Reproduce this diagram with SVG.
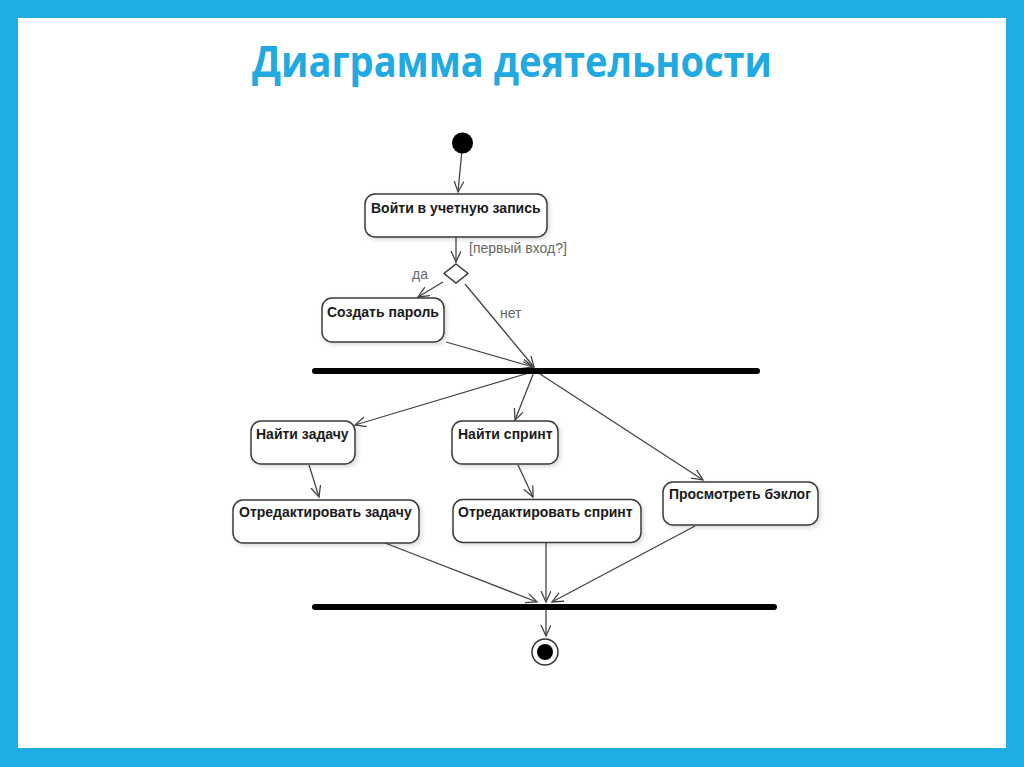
<svg xmlns="http://www.w3.org/2000/svg" width="1024" height="767" viewBox="0 0 1024 767">
<defs>
<style>
.node rect{fill:#fff;stroke:#3a3a3a;stroke-width:1.5;filter:url(#sh)}
.node text{font-family:"Liberation Sans",Arial,sans-serif;font-weight:bold;font-size:14px;fill:#1a1a1a}
.lbl{font-family:"Liberation Sans",Arial,sans-serif;font-size:14px;fill:#666}
#connectors line{stroke:#444;stroke-width:1.3;fill:none;marker-end:url(#arr)}
.bar{stroke:#000;stroke-width:6;stroke-linecap:round}
</style>
<marker id="arr" markerUnits="userSpaceOnUse" markerWidth="14" markerHeight="12" refX="11" refY="5" orient="auto" viewBox="0 0 14 12">
<path d="M0,0 L11,5 L0,10" fill="none" stroke="#444" stroke-width="1.3"/>
</marker>
<filter id="sh" x="-10%" y="-20%" width="130%" height="150%">
<feDropShadow dx="2" dy="2" stdDeviation="2" flood-color="#000" flood-opacity="0.15"/>
</filter>
</defs>
<rect x="0" y="0" width="1024" height="767" fill="#1eaee4"/>
<rect x="18" y="18" width="988" height="730" fill="#fff"/>
<text x="512" y="77" text-anchor="middle" font-family="'Open Sans',sans-serif" font-weight="bold" font-size="43" fill="#21a9e1" textLength="520" lengthAdjust="spacingAndGlyphs">Диаграмма деятельности</text>

<g id="connectors">
<line x1="461.7" y1="153" x2="458" y2="192"/>
<line x1="456" y1="237" x2="456" y2="262"/>
<line x1="443" y1="282" x2="418" y2="297"/>
<line x1="465" y1="284" x2="534" y2="367"/>
<line x1="446" y1="342" x2="533" y2="367"/>
<line x1="532" y1="372" x2="355" y2="425"/>
<line x1="534" y1="372" x2="515" y2="420"/>
<line x1="537" y1="372" x2="703" y2="480"/>
<line x1="309" y1="465" x2="319" y2="497"/>
<line x1="518" y1="465" x2="533" y2="497"/>
<line x1="385" y1="543" x2="537" y2="602"/>
<line x1="546" y1="543" x2="546" y2="602"/>
<line x1="695" y1="526" x2="552" y2="602"/>
<line x1="546" y1="608" x2="546" y2="636"/>
</g>

<g id="start"><circle cx="462.5" cy="143" r="10.5" fill="#000"/></g>

<g id="login" class="node"><rect x="365" y="194" width="182" height="43" rx="10"/><text x="371" y="213">Войти в учетную запись</text></g>

<g id="decision"><path d="M456,264 L468,273.5 L456,283 L444,273.5 Z" fill="#fff" stroke="#3a3a3a" stroke-width="1.5"/></g>
<text class="lbl" x="469" y="253">[первый вход?]</text>
<text class="lbl" x="412" y="279">да</text>
<text class="lbl" x="500" y="318">нет</text>

<g id="create" class="node"><rect x="322" y="298" width="122" height="44" rx="10"/><text x="327" y="317">Создать пароль</text></g>

<g id="fork"><line class="bar" x1="315" y1="371" x2="757" y2="371"/></g>

<g id="findtask" class="node"><rect x="251" y="421" width="104" height="43" rx="10"/><text x="256" y="439">Найти задачу</text></g>
<g id="findsprint" class="node"><rect x="452" y="421" width="106" height="43" rx="10"/><text x="458" y="439">Найти спринт</text></g>
<g id="edittask" class="node"><rect x="233" y="500" width="186" height="43" rx="10"/><text x="239" y="517">Отредактировать задачу</text></g>
<g id="editsprint" class="node"><rect x="453" y="499.5" width="188" height="43" rx="10"/><text x="458" y="517">Отредактировать спринт</text></g>
<g id="backlog" class="node"><rect x="663" y="482" width="155" height="43" rx="10"/><text x="669" y="499">Просмотреть бэклог</text></g>

<g id="join"><line class="bar" x1="315" y1="607" x2="774" y2="607"/></g>

<g id="end"><circle cx="545" cy="652" r="13" fill="#fff" stroke="#333" stroke-width="1.5"/><circle cx="545" cy="652" r="8" fill="#000"/></g>
</svg>
